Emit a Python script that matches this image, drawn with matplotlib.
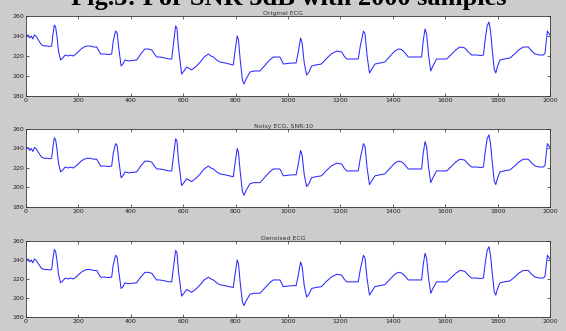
import numpy as np
import matplotlib
matplotlib.use('Agg')
from matplotlib import pyplot as plt

# sample index / amplitude breakpoints
ecg_x = [0, 8, 14, 20, 26, 32, 38, 45, 52, 60, 70, 80, 90, 98, 102, 108, 113, 118, 124, 132,
         140, 150, 160, 170, 181, 195, 210, 222, 232, 245, 258, 270, 278, 285, 300, 315, 327,
         333, 342, 348, 354, 363, 370, 378, 391, 405, 422, 438, 454, 467, 480, 490, 499, 511,
         530, 545, 556, 562, 571, 576, 582, 594, 603, 613, 620, 632, 651, 665, 680, 696, 706,
         715, 728, 740, 760, 775, 791, 798, 806, 811, 818, 826, 832, 840, 855, 870, 893, 910,
         930, 944, 960, 969, 975, 982, 1000, 1015, 1031, 1040, 1048, 1054, 1062, 1071, 1080,
         1090, 1105, 1128, 1145, 1165, 1186, 1196, 1205, 1214, 1224, 1240, 1255, 1268, 1276,
         1288, 1294, 1302, 1311, 1320, 1332, 1350, 1370, 1390, 1408, 1421, 1432, 1440, 1450,
         1459, 1480, 1495, 1510, 1516, 1523, 1529, 1536, 1545, 1553, 1567, 1585, 1606, 1625,
         1640, 1656, 1668, 1675, 1688, 1701, 1720, 1735, 1746, 1752, 1760, 1767, 1773, 1780,
         1787, 1793, 1800, 1809, 1825, 1847, 1865, 1880, 1898, 1910, 1917, 1930, 1943, 1960,
         1975, 1981, 1986, 1990, 1995, 2000]
ecg_y = [240, 241, 238, 240, 237, 241, 240, 237, 234, 231, 230, 230, 229.5, 230, 240, 251, 249,
         240, 225, 216, 218, 221, 220, 221, 220, 223, 227, 229, 230, 230, 229, 229, 225, 222,
         222, 221.5, 222, 235, 245, 243, 228, 210, 212, 216, 215, 215.5, 216, 222, 227, 227,
         226, 222, 219, 219, 218, 217, 217, 230, 250, 248, 228, 202, 205, 209, 208, 206, 210,
         214, 219, 222, 220, 219, 216, 214, 213, 212, 211, 225, 240, 236, 215, 196, 192, 197,
         204, 205, 205, 210, 216, 219, 219, 219, 216, 212, 212.5, 213, 213, 225, 238, 233, 213,
         201, 204, 210, 211, 212, 217, 222, 225, 224.5, 224, 220, 217, 217, 217, 217, 230, 245,
         242, 220, 203, 207, 212, 213, 214, 220, 225, 227, 226.5, 225, 222, 219, 219, 219, 219,
         235, 247, 242, 222, 205, 210, 217, 217, 217, 222, 226, 229, 228.5, 228, 224, 221, 221,
         220.5, 221, 235, 250, 254, 245, 225, 207, 203, 210, 216, 217, 218, 222, 226, 229, 229,
         229, 225, 222, 221, 221, 223, 235, 245, 243, 241]

titles = ['Original ECG', 'Noisy ECG, SNR:10', 'Denoised ECG']
xticks = list(range(0, 2001, 200))
yticks = [180, 200, 220, 240, 260]

W, H = 566, 331
fig = plt.figure(figsize=(W / 100, H / 100), dpi=100, facecolor='#cccccc')

# axes boxes in pixels: (top, bottom)
boxes = [(16, 96), (129, 207), (241, 317)]
left, right = 26, 550

for (top, bot), title in zip(boxes, titles):
    ax = fig.add_axes([left / W, 1 - bot / H, (right - left) / W, (bot - top) / H])
    ax.set_facecolor('white')
    ax.plot(ecg_x, ecg_y, color='#2a2aff', lw=0.75)
    ax.set_xlim(0, 2000)
    ax.set_ylim(180, 260)
    ax.set_xticks(xticks)
    ax.set_yticks(yticks)
    ax.tick_params(direction='in', length=2.5, width=0.5, labelsize=4.5,
                   top=True, right=True, pad=1.5, colors='#222222')
    for s in ax.spines.values():
        s.set_linewidth(0.6)
        s.set_color('#333333')
    fig.text(0.5, 1 - (top - 1.5) / H, title, ha='center', va='baseline',
             fontsize=4.5, color='#333333')

# figure caption, cut off by the top edge as in the source image
fig.text(0.51, 1 - 5 / H, 'Fig.3: For SNR 5dB with 2000 samples', ha='center', va='baseline',
         fontsize=19, fontweight='bold', family='Liberation Serif')

fig.savefig('out.png', dpi=100, facecolor=fig.get_facecolor())
